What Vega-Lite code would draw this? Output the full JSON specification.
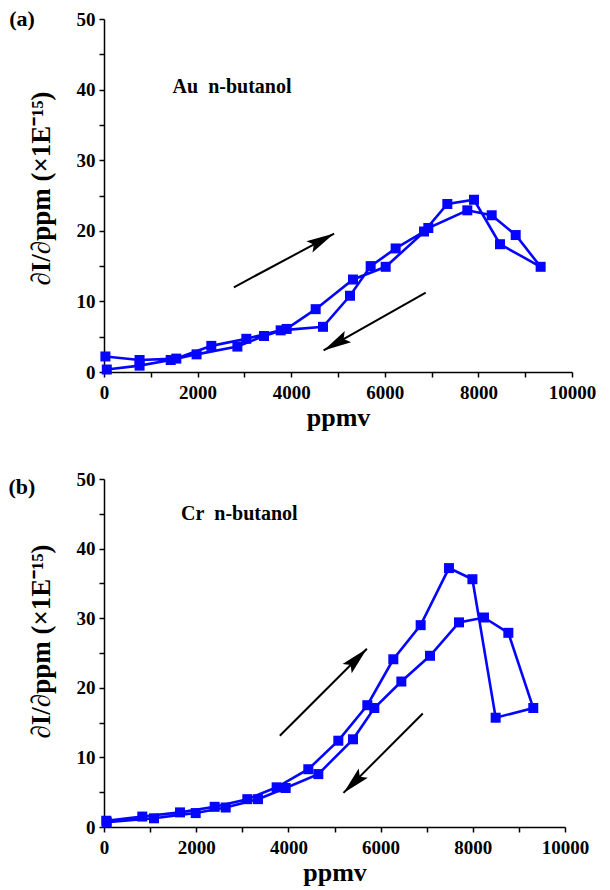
{
  "$schema": "https://vega.github.io/schema/vega-lite/v6.json",
  "background": "white",
  "padding": {"left": 8, "top": 8, "right": 12, "bottom": 4},
  "spacing": 40,
  "config": {
    "view": {"stroke": null},
    "axis": {
      "grid": false,
      "domainColor": "black",
      "domainWidth": 1.5,
      "tickColor": "black",
      "tickWidth": 1.5,
      "tickSize": 5,
      "labelFont": "Liberation Serif",
      "labelFontWeight": "bold",
      "labelFontSize": 19,
      "labelColor": "black",
      "labelFlush": false,
      "labelOverlap": false,
      "titleFont": "Liberation Serif",
      "titleFontWeight": "bold",
      "titleColor": "black"
    }
  },
  "datasets": {
    "a_pts": [
      {"i": 1, "ppmv": 30, "v": 2.2},
      {"i": 2, "ppmv": 760, "v": 1.7},
      {"i": 3, "ppmv": 1545, "v": 1.9},
      {"i": 4, "ppmv": 2293, "v": 3.7},
      {"i": 5, "ppmv": 3041, "v": 4.7},
      {"i": 6, "ppmv": 3775, "v": 5.9},
      {"i": 7, "ppmv": 4680, "v": 6.4},
      {"i": 8, "ppmv": 5256, "v": 10.8},
      {"i": 9, "ppmv": 5698, "v": 15.0},
      {"i": 10, "ppmv": 6232, "v": 17.5},
      {"i": 11, "ppmv": 6838, "v": 19.9},
      {"i": 12, "ppmv": 7336, "v": 23.8},
      {"i": 13, "ppmv": 7906, "v": 24.4},
      {"i": 14, "ppmv": 8462, "v": 18.1},
      {"i": 15, "ppmv": 9330, "v": 14.9},
      {"i": 16, "ppmv": 8797, "v": 19.4},
      {"i": 17, "ppmv": 8284, "v": 22.2},
      {"i": 18, "ppmv": 7763, "v": 22.9},
      {"i": 19, "ppmv": 6930, "v": 20.4},
      {"i": 20, "ppmv": 6019, "v": 14.9},
      {"i": 21, "ppmv": 5321, "v": 13.1},
      {"i": 22, "ppmv": 4523, "v": 8.9},
      {"i": 23, "ppmv": 3903, "v": 6.1},
      {"i": 24, "ppmv": 3419, "v": 5.1},
      {"i": 25, "ppmv": 2850, "v": 3.6},
      {"i": 26, "ppmv": 1978, "v": 2.5},
      {"i": 27, "ppmv": 1425, "v": 1.7},
      {"i": 28, "ppmv": 760, "v": 0.9},
      {"i": 29, "ppmv": 60, "v": 0.35}
    ],
    "b_pts": [
      {"i": 1, "ppmv": 50, "v": 0.9},
      {"i": 2, "ppmv": 831, "v": 1.5},
      {"i": 3, "ppmv": 1649, "v": 2.1},
      {"i": 4, "ppmv": 2401, "v": 2.9},
      {"i": 5, "ppmv": 3109, "v": 4.0},
      {"i": 6, "ppmv": 3745, "v": 5.7},
      {"i": 7, "ppmv": 4432, "v": 8.3},
      {"i": 8, "ppmv": 5083, "v": 12.4},
      {"i": 9, "ppmv": 5712, "v": 17.5},
      {"i": 10, "ppmv": 6276, "v": 24.1},
      {"i": 11, "ppmv": 6869, "v": 29.0},
      {"i": 12, "ppmv": 7483, "v": 37.2},
      {"i": 13, "ppmv": 7992, "v": 35.6},
      {"i": 14, "ppmv": 8496, "v": 15.7},
      {"i": 15, "ppmv": 9312, "v": 17.1},
      {"i": 16, "ppmv": 8771, "v": 27.9},
      {"i": 17, "ppmv": 8243, "v": 30.1},
      {"i": 18, "ppmv": 7701, "v": 29.4},
      {"i": 19, "ppmv": 7072, "v": 24.6},
      {"i": 20, "ppmv": 6450, "v": 20.9},
      {"i": 21, "ppmv": 5864, "v": 17.1},
      {"i": 22, "ppmv": 5401, "v": 12.6},
      {"i": 23, "ppmv": 4649, "v": 7.6},
      {"i": 24, "ppmv": 3941, "v": 5.6},
      {"i": 25, "ppmv": 3341, "v": 4.0},
      {"i": 26, "ppmv": 2640, "v": 2.8},
      {"i": 27, "ppmv": 1989, "v": 2.0},
      {"i": 28, "ppmv": 1085, "v": 1.25},
      {"i": 29, "ppmv": 60, "v": 0.7}
    ],
    "a_arrows": [
      {"id": "up", "x": 2775, "y": 12.0, "x2": 4917, "y2": 19.6},
      {"id": "down", "x": 6875, "y": 11.25, "x2": 4692, "y2": 3.06}
    ],
    "b_arrows": [
      {"id": "up", "x": 3814, "y": 13.1, "x2": 5703, "y2": 25.6},
      {"id": "down", "x": 6915, "y": 16.3, "x2": 5195, "y2": 4.9}
    ],
    "a_notes": [
      {"kind": "name", "ppmv": 1466, "v": 40.3, "label": "Au\u00a0\u00a0n-butanol"},
      {"kind": "panel", "ppmv": -1750, "v": 50, "label": "(a)"}
    ],
    "b_notes": [
      {"kind": "name", "ppmv": 1670, "v": 45.0, "label": "Cr\u00a0\u00a0n-butanol"},
      {"kind": "panel", "ppmv": -1780, "v": 48.9, "label": "(b)"}
    ]
  },
  "vconcat": [
    {
      "width": 468,
      "height": 353,
      "encoding": {
        "x": {
          "field": "ppmv", "type": "quantitative",
          "scale": {"domain": [0, 10000], "nice": false, "zero": false},
          "axis": {
            "title": "ppmv", "titleFontSize": 26, "titlePadding": 2,
            "values": [0, 1000, 2000, 3000, 4000, 5000, 6000, 7000, 8000, 9000, 10000],
            "format": "d", "labelPadding": 6,
            "labelExpr": "datum.value % 2000 === 0 ? datum.label : ''"
          }
        },
        "y": {
          "field": "v", "type": "quantitative",
          "scale": {"domain": [0, 50], "nice": false},
          "axis": {
            "title": "∂I/∂ppm (×1E⁻¹⁵)", "titleFontSize": 27, "titlePadding": 21, "titleY": 169,
            "values": [0, 5, 10, 15, 20, 25, 30, 35, 40, 45, 50],
            "labelPadding": 4,
            "labelExpr": "datum.value % 10 === 0 ? datum.label : ''"
          }
        }
      },
      "layer": [
        {
          "data": {"name": "a_pts"},
          "mark": {"type": "line", "color": "#0505ff", "strokeWidth": 2.6},
          "encoding": {"order": {"field": "i", "type": "quantitative"}}
        },
        {
          "data": {"name": "a_pts"},
          "mark": {"type": "square", "color": "#0505ff", "size": 100, "filled": true, "opacity": 1}
        },
        {
          "data": {"name": "a_arrows"},
          "mark": {"type": "rule", "color": "black", "strokeWidth": 2},
          "encoding": {
            "x": {"field": "x", "type": "quantitative"},
            "y": {"field": "y", "type": "quantitative"},
            "x2": {"field": "x2"},
            "y2": {"field": "y2"}
          }
        },
        {
          "data": {"name": "a_arrows"},
          "transform": [{"filter": "datum.id === 'up'"}],
          "mark": {"type": "point", "shape": "M0,0L0.65,2.8L0,2.3L-0.65,2.8Z", "filled": true, "color": "black", "opacity": 1, "size": 400, "angle": 61.8},
          "encoding": {
            "x": {"field": "x2", "type": "quantitative"},
            "y": {"field": "y2", "type": "quantitative"}
          }
        },
        {
          "data": {"name": "a_arrows"},
          "transform": [{"filter": "datum.id === 'down'"}],
          "mark": {"type": "point", "shape": "M0,0L0.65,2.8L0,2.3L-0.65,2.8Z", "filled": true, "color": "black", "opacity": 1, "size": 400, "angle": 240.5},
          "encoding": {
            "x": {"field": "x2", "type": "quantitative"},
            "y": {"field": "y2", "type": "quantitative"}
          }
        },
        {
          "data": {"name": "a_notes"},
          "transform": [{"filter": "datum.kind === 'name'"}],
          "mark": {"type": "text", "font": "Liberation Serif", "fontWeight": "bold", "fontSize": 20, "align": "left", "baseline": "middle", "color": "black"},
          "encoding": {"text": {"field": "label"}}
        },
        {
          "data": {"name": "a_notes"},
          "transform": [{"filter": "datum.kind === 'panel'"}],
          "mark": {"type": "text", "font": "Liberation Serif", "fontWeight": "bold", "fontSize": 22, "align": "center", "baseline": "middle", "color": "black"},
          "encoding": {"text": {"field": "label"}}
        }
      ]
    },
    {
      "width": 461,
      "height": 348,
      "encoding": {
        "x": {
          "field": "ppmv", "type": "quantitative",
          "scale": {"domain": [0, 10000], "nice": false, "zero": false},
          "axis": {
            "title": "ppmv", "titleFontSize": 26, "titlePadding": 2,
            "values": [0, 1000, 2000, 3000, 4000, 5000, 6000, 7000, 8000, 9000, 10000],
            "format": "d", "labelPadding": 6,
            "labelExpr": "datum.value % 2000 === 0 ? datum.label : ''"
          }
        },
        "y": {
          "field": "v", "type": "quantitative",
          "scale": {"domain": [0, 50], "nice": false},
          "axis": {
            "title": "∂I/∂ppm (×1E⁻¹⁵)", "titleFontSize": 27, "titlePadding": 21, "titleY": 162,
            "values": [0, 5, 10, 15, 20, 25, 30, 35, 40, 45, 50],
            "labelPadding": 4,
            "labelExpr": "datum.value % 10 === 0 ? datum.label : ''"
          }
        }
      },
      "layer": [
        {
          "data": {"name": "b_pts"},
          "mark": {"type": "line", "color": "#0505ff", "strokeWidth": 2.6},
          "encoding": {"order": {"field": "i", "type": "quantitative"}}
        },
        {
          "data": {"name": "b_pts"},
          "mark": {"type": "square", "color": "#0505ff", "size": 100, "filled": true, "opacity": 1}
        },
        {
          "data": {"name": "b_arrows"},
          "mark": {"type": "rule", "color": "black", "strokeWidth": 2},
          "encoding": {
            "x": {"field": "x", "type": "quantitative"},
            "y": {"field": "y", "type": "quantitative"},
            "x2": {"field": "x2"},
            "y2": {"field": "y2"}
          }
        },
        {
          "data": {"name": "b_arrows"},
          "transform": [{"filter": "datum.id === 'up'"}],
          "mark": {"type": "point", "shape": "M0,0L0.65,2.8L0,2.3L-0.65,2.8Z", "filled": true, "color": "black", "opacity": 1, "size": 400, "angle": 45},
          "encoding": {
            "x": {"field": "x2", "type": "quantitative"},
            "y": {"field": "y2", "type": "quantitative"}
          }
        },
        {
          "data": {"name": "b_arrows"},
          "transform": [{"filter": "datum.id === 'down'"}],
          "mark": {"type": "point", "shape": "M0,0L0.65,2.8L0,2.3L-0.65,2.8Z", "filled": true, "color": "black", "opacity": 1, "size": 400, "angle": 225},
          "encoding": {
            "x": {"field": "x2", "type": "quantitative"},
            "y": {"field": "y2", "type": "quantitative"}
          }
        },
        {
          "data": {"name": "b_notes"},
          "transform": [{"filter": "datum.kind === 'name'"}],
          "mark": {"type": "text", "font": "Liberation Serif", "fontWeight": "bold", "fontSize": 20, "align": "left", "baseline": "middle", "color": "black"},
          "encoding": {"text": {"field": "label"}}
        },
        {
          "data": {"name": "b_notes"},
          "transform": [{"filter": "datum.kind === 'panel'"}],
          "mark": {"type": "text", "font": "Liberation Serif", "fontWeight": "bold", "fontSize": 22, "align": "center", "baseline": "middle", "color": "black"},
          "encoding": {"text": {"field": "label"}}
        }
      ]
    }
  ]
}
